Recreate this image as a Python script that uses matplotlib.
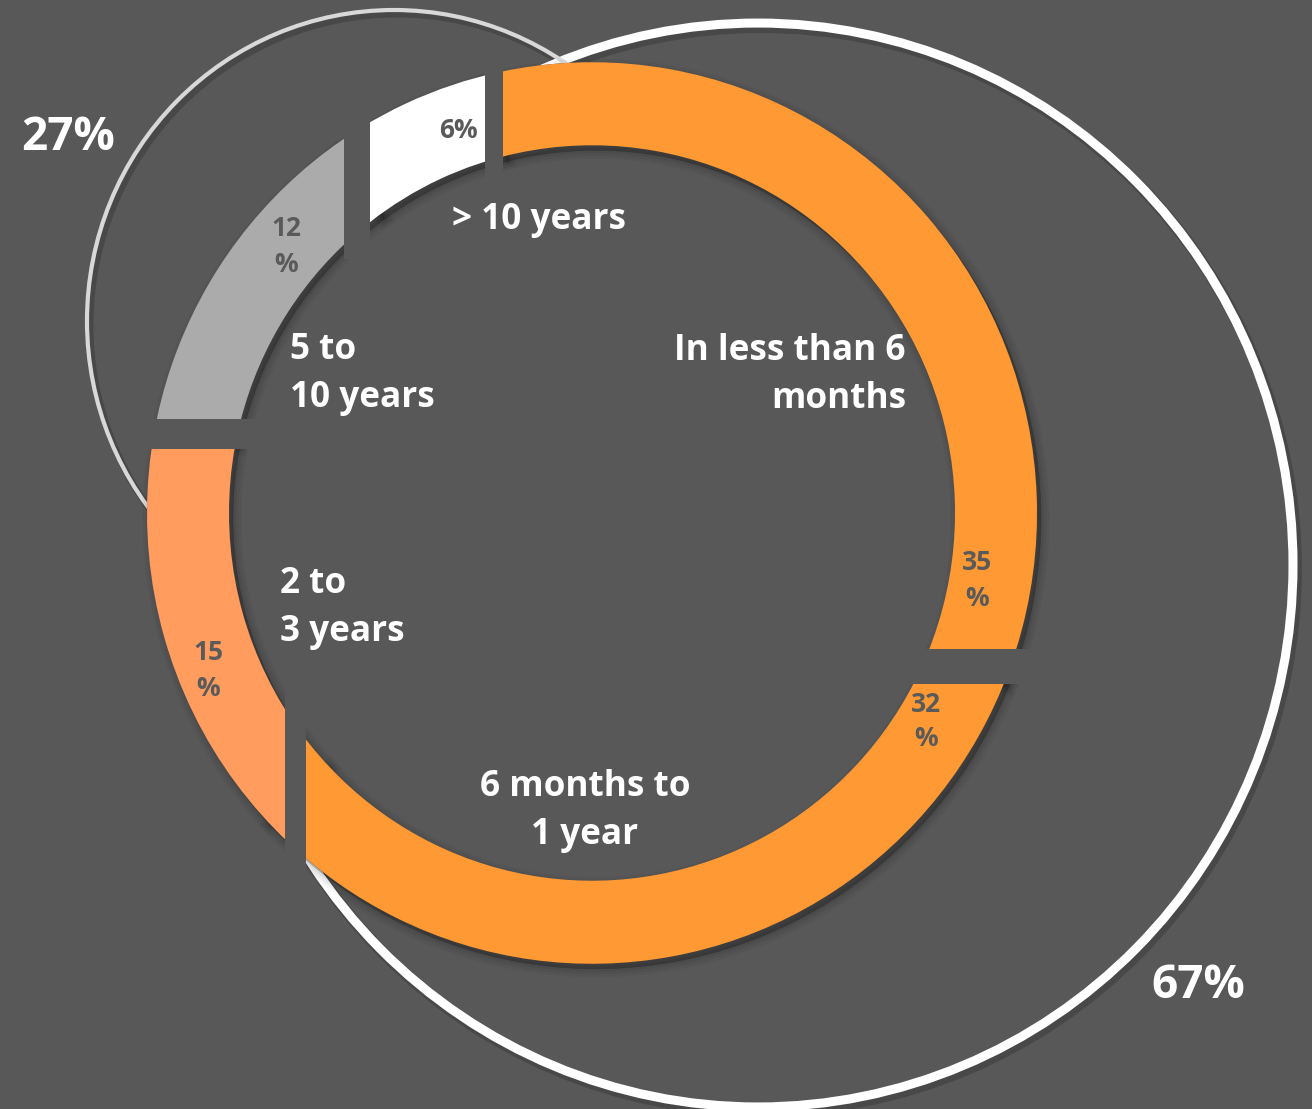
import numpy as np
import matplotlib
matplotlib.use("Agg")
import matplotlib.pyplot as plt
from matplotlib.patches import Circle, Rectangle
from matplotlib.path import Path

# ---- data -------------------------------------------------------------
categories = ["In less than 6\nmonths", "6 months to\n1 year", "2 to\n3 years",
              "5 to\n10 years", "> 10 years"]
shares = [35, 32, 15, 12, 6]
share_labels = ["35\n%", "32\n%", "15\n%", "12\n%", "6%"]
group_labels = ["67%", "27%"]

# ---- style ------------------------------------------------------------
BG = "#585858"
slice_colors = ["#FF9933", "#FF9933", "#FF9C5E", "#ABABAB", "#FFFFFF"]
pct_color = "#5A5A5A"
plt.rcParams["font.family"] = ["Open Sans", "DejaVu Sans"]

W, H = 1312, 1109
K = 1.013          # slight vertical stretch of the whole drawing
fig = plt.figure(figsize=(W / 100, H / 100), dpi=100, facecolor=BG)
ax = fig.add_axes([0, 0, 1, 1])
ax.set_facecolor(BG)


def row(y):
    """Convert a top-down row position into axes y."""
    return (H - y) / K


# ring geometry
cx, cy = 592, row(513)
R_OUT, RING = 445, 82
R_IN = R_OUT - RING
START = 104

# ---- outline brackets behind the ring ----------------------------------
brackets = [  # (centre x, centre row, radius, colour, line width)
    (758, 565, 535, "#FFFFFF", 6.5),
    (394, 321, 307, "#D8D8D8", 3.0),
]
for bx, by, br, bc, blw in brackets:
    ax.add_patch(Circle((bx + 3, row(by) - 4), br, fill=False, ec="black",
                        lw=blw + 2, alpha=0.18, zorder=0.9))
    ax.add_patch(Circle((bx, row(by)), br, fill=False, ec=bc, lw=blw, zorder=1))

# hide the bracket circles inside the donut
ax.add_patch(Circle((cx, cy), R_OUT, fc=BG, ec="none", zorder=2))

# ---- soft drop shadow of the ring -------------------------------------
for lw, a in [(12, 0.035), (8, 0.045), (4, 0.06), (0.5, 0.10)]:
    ax.pie(shares, colors=["black"] * len(shares), radius=R_OUT,
           center=(cx + 4, cy - 5), startangle=START, counterclock=False,
           wedgeprops=dict(width=RING, linewidth=lw, edgecolor="black",
                           alpha=a, zorder=3), frame=True)

# ---- donut ring -------------------------------------------------------
wedges, _ = ax.pie(shares, colors=slice_colors, radius=R_OUT, center=(cx, cy),
                   startangle=START, counterclock=False,
                   wedgeprops=dict(width=RING, linewidth=0, zorder=4), frame=True)

# slice boundaries are cut by straight vertical / horizontal bars
frac = np.asarray(shares, dtype=float) / np.sum(shares)
starts = START - 360 * np.concatenate([[0.0], np.cumsum(frac)[:-1]])
cut_dir = ["v", "h", "v", "h", "v"]
cut_w = [18, 35, 21, 30, 26]
r_mid = R_OUT - RING / 2
cut_pos = []
for ang in starts:
    t = np.deg2rad(ang)
    cut_pos.append((cx + r_mid * np.cos(t), cy + r_mid * np.sin(t)))


def side_of_cut(j, probe_angle):
    """+1 / -1 : on which side of cut j a ring point at probe_angle lies."""
    t = np.deg2rad(probe_angle)
    px, py = cx + r_mid * np.cos(t), cy + r_mid * np.sin(t)
    mx, my = cut_pos[j]
    return np.sign(px - mx) if cut_dir[j] == "v" else np.sign(py - my)


BIG = 3000.0
n = len(shares)
for i, wdg in enumerate(wedges):
    x0, x1, y0, y1 = -BIG, BIG, -BIG, BIG
    # the cut at the slice start (slice lies clockwise of it) and at its end
    for j, probe in ((i, starts[i] - 5), ((i + 1) % n, starts[(i + 1) % n] + 5)):
        s = side_of_cut(j, probe)
        mx, my = cut_pos[j]
        if cut_dir[j] == "v":
            if s > 0:
                x0 = max(x0, mx)
            else:
                x1 = min(x1, mx)
        else:
            if s > 0:
                y0 = max(y0, my)
            else:
                y1 = min(y1, my)
    wdg.set_theta1(wdg.theta1 - 15)
    wdg.set_theta2(wdg.theta2 + 15)
    box = Path([(x0, y0), (x1, y0), (x1, y1), (x0, y1), (x0, y0)], closed=True)
    wdg.set_clip_on(True)
    wdg.set_clip_path(box, ax.transData)


def band_span(offsets, side):
    """Extent across the ring along a straight line at the given offsets."""
    vals = []
    for o in offsets:
        o = abs(o)
        vals.append(side * np.sqrt(max(R_OUT ** 2 - o ** 2, 0.0)))
        vals.append(side * np.sqrt(max(R_IN ** 2 - o ** 2, 0.0)))
    return min(vals), max(vals)


pad = 14
for ang, d, w, (mx, my) in zip(starts, cut_dir, cut_w, cut_pos):
    t = np.deg2rad(ang)
    if d == "v":
        lo, hi = band_span([mx - cx - w / 2, mx - cx + w / 2], np.sign(np.sin(t)))
        ax.add_patch(Rectangle((mx - w / 2, cy + lo - pad), w, hi - lo + 2 * pad,
                               fc=BG, ec="none", zorder=5))
    else:
        h = w / K
        lo, hi = band_span([my - cy - h / 2, my - cy + h / 2], np.sign(np.cos(t)))
        ax.add_patch(Rectangle((cx + lo - pad, my - h / 2), hi - lo + 2 * pad, h,
                               fc=BG, ec="none", zorder=5))


# ---- text -------------------------------------------------------------
def stacked(text, x, y, step, size, color, ha):
    for k, line in enumerate(text.split("\n")):
        ax.text(x, row(y + k * step), line, fontsize=size, color=color,
                fontweight="bold", ha=ha, va="center", zorder=6)


share_pos = [(977, 563), (926, 704), (208, 653), (286, 229), (458, 130)]
for lbl, (x, y) in zip(share_labels, share_pos):
    stacked(lbl, x, y, 35, 19, pct_color, "center")

cat_pos = [(906, 351, "right"), (585, 787, "center"), (280, 584, "left"),
           (290, 350, "left"), (452, 220, "left")]
for lbl, (x, y, ha) in zip(categories, cat_pos):
    stacked(lbl, x, y, 48, 25.3, "white", ha)

group_pos = [(1198, 985), (68, 138)]
for lbl, (x, y) in zip(group_labels, group_pos):
    ax.text(x, row(y), lbl, fontsize=33, color="white", fontweight="bold",
            ha="center", va="center", zorder=6)

ax.set_xlim(0, W)
ax.set_ylim(0, H / K)
ax.set_aspect("auto")
ax.set_axis_off()
fig.savefig("out.png", dpi=100, facecolor=BG)
